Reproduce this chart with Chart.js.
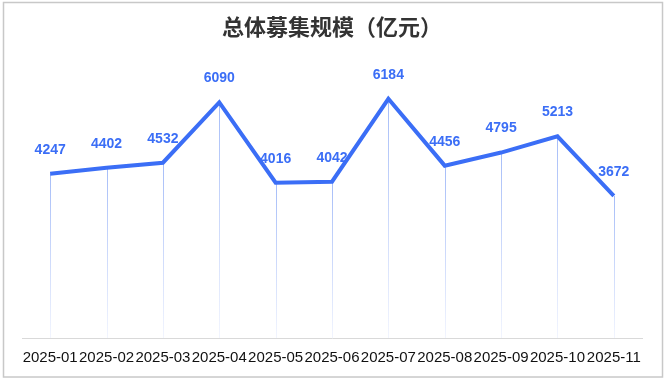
<!DOCTYPE html>
<html><head><meta charset="utf-8">
<script src="https://cdn.jsdelivr.net/npm/chart.js@4"></script>
<style>html,body{margin:0;padding:0;background:#fff}#wrap{width:665px;height:380px;position:relative}</style>
</head><body><div id="wrap"><canvas id="c" width="665" height="380"></canvas></div>
<script>
const categories = ["2025-01","2025-02","2025-03","2025-04","2025-05","2025-06","2025-07","2025-08","2025-09","2025-10","2025-11"];
const totalRaised = [4247,4402,4532,6090,4016,4042,6184,4456,4795,5213,3672];
const titleText = "总体募集规模（亿元）";
const yMin = 0, yMax = 7100;

const borderPlugin = {
  id:'borderBox',
  beforeDraw(chart){
    const ctx = chart.ctx; ctx.save();
    ctx.fillStyle='#fff'; ctx.fillRect(0,0,chart.width,chart.height);
    ctx.strokeStyle='#c8c8c8'; ctx.lineWidth=1.5;
    ctx.strokeRect(3.5,2.5,659,374.5);
    ctx.restore();
  }
};
const dropPlugin = {
  id:'dropLines',
  beforeDatasetsDraw(chart){
    const ctx=chart.ctx, meta=chart.getDatasetMeta(0), bottom=chart.chartArea.bottom;
    ctx.save(); ctx.lineWidth=1;
    meta.data.forEach(p=>{
      const g=ctx.createLinearGradient(0,p.y,0,bottom);
      g.addColorStop(0,'#a6bdf8'); g.addColorStop(1,'#f2f5fe');
      ctx.strokeStyle=g; ctx.beginPath();
      const x=Math.round(p.x)+0.5;
      ctx.moveTo(x,p.y); ctx.lineTo(x,bottom); ctx.stroke();
    });
    ctx.restore();
  }
};
const labelPlugin = {
  id:'valueLabels',
  afterDatasetsDraw(chart){
    const ctx=chart.ctx, meta=chart.getDatasetMeta(0), ds=chart.data.datasets[0];
    ctx.save(); ctx.font='bold 14px "Liberation Sans", Arial, sans-serif';
    ctx.fillStyle='#3b6ef6'; ctx.textAlign='center'; ctx.textBaseline='middle';
    meta.data.forEach((p,i)=>{ ctx.fillText(String(ds.data[i]), p.x, p.y-24); });
    ctx.restore();
  }
};

new Chart(document.getElementById('c'),{
  type:'line',
  data:{labels:categories,datasets:[{data:totalRaised,borderColor:'#3b6ef6',borderWidth:4,pointRadius:0,pointHoverRadius:0,tension:0,borderJoinStyle:'miter',fill:false}]},
  options:{
    responsive:false,animation:false,events:[],
    layout:{padding:{left:22,right:23,top:0,bottom:2}},
    plugins:{
      legend:{display:false},tooltip:{enabled:false},
      title:{display:true,text:titleText,color:'#333',font:{family:'"Noto Sans CJK SC", sans-serif',size:22,weight:'bold',lineHeight:1.2},padding:{top:13,bottom:24}}
    },
    scales:{
      x:{offset:true,grid:{display:false,drawTicks:false},border:{display:true,color:'#d9d9d9',width:1},
         ticks:{autoSkip:false,maxRotation:0,minRotation:0,padding:11,color:'#111',font:{family:'"Liberation Sans", Arial, sans-serif',size:15}}},
      y:{display:false,min:yMin,max:yMax}
    }
  },
  plugins:[borderPlugin,dropPlugin,labelPlugin]
});
</script></body></html>
